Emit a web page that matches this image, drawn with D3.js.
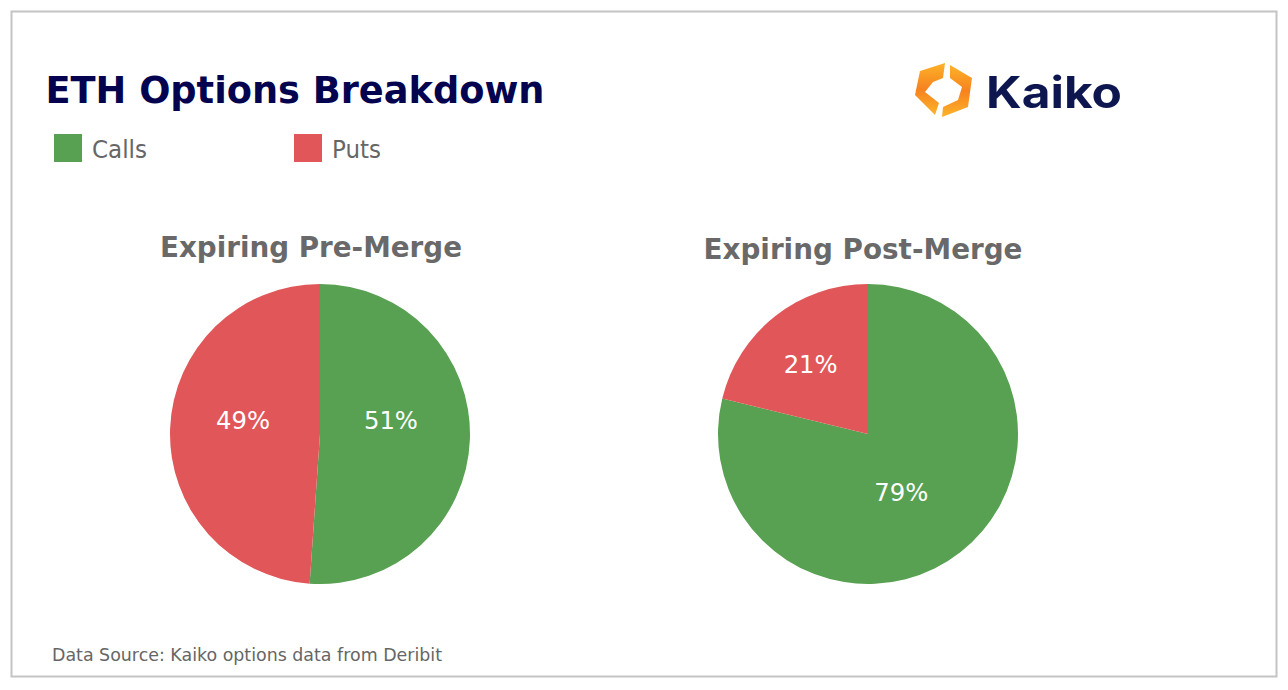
<!DOCTYPE html>
<html>
<head>
<meta charset="utf-8">
<script src="https://cdn.jsdelivr.net/npm/d3@7"></script>
<style>
  html, body { margin: 0; padding: 0; background: #fff; }
  svg { display: block; }
  text { font-family: "DejaVu Sans", sans-serif; }
</style>
</head>
<body>
<div id="chart"></div>
<script>
const seriesNames = ["Calls", "Puts"];
const seriesColors = ["#58a052", "#e15759"];
const pieTitles = ["Expiring Pre-Merge", "Expiring Post-Merge"];
const callsShare = [51.1, 78.8];
const putsShare = [48.9, 21.2];
const chartTitle = "ETH Options Breakdown";
const sourceNote = "Data Source: Kaiko options data from Deribit";

const width = 1288, height = 690;
const radius = 150;
const pieCenters = [320, 868];
const pieY = 434;
// label nudges away from the centroid, the original labels were placed by hand
const labelNudge = [
  [[-4, -16], [-2, -11]],
  [[-13, 0], [-11, -10]]
];

const svg = d3.select("#chart").append("svg")
  .attr("width", width)
  .attr("height", height);

svg.append("rect")
  .attr("x", 11.5).attr("y", 11.5)
  .attr("width", 1265).attr("height", 665)
  .attr("fill", "#fff")
  .attr("stroke", "#c4c4c4")
  .attr("stroke-width", 2);

svg.append("text")
  .attr("x", 45.5).attr("y", 103)
  .attr("font-size", 37.5)
  .attr("font-weight", 700)
  .attr("fill", "#03034f")
  .attr("textLength", 499)
  .attr("lengthAdjust", "spacingAndGlyphs")
  .text(chartTitle);

// legend
const legendX = [54, 294];
const legend = svg.selectAll("g.legend")
  .data(seriesNames)
  .join("g")
  .attr("class", "legend")
  .attr("transform", (d, i) => "translate(" + legendX[i] + ",134)");

legend.append("rect")
  .attr("width", 28).attr("height", 28)
  .attr("fill", (d, i) => seriesColors[i]);

legend.append("text")
  .attr("x", 38).attr("y", 24)
  .attr("font-size", 24)
  .attr("fill", "#666")
  .attr("textLength", (d, i) => [55, 49][i])
  .attr("lengthAdjust", "spacingAndGlyphs")
  .text(d => d);

// pies
const pie = d3.pie().sort(null).value(d => d);
const arc = d3.arc().innerRadius(0).outerRadius(radius);

pieTitles.forEach((title, p) => {
  const g = svg.append("g")
    .attr("transform", "translate(" + pieCenters[p] + "," + pieY + ")");

  const slices = pie([callsShare[p], putsShare[p]]);

  g.selectAll("path")
    .data(slices)
    .join("path")
    .attr("d", arc)
    .attr("fill", (d, i) => seriesColors[i]);

  g.selectAll("text.value")
    .data(slices)
    .join("text")
    .attr("class", "value")
    .attr("transform", (d, i) => {
      const c = arc.centroid(d);
      return "translate(" + (c[0] + labelNudge[p][i][0]) + "," + (c[1] + labelNudge[p][i][1]) + ")";
    })
    .attr("text-anchor", "middle")
    .attr("dy", "0.35em")
    .attr("font-size", 24)
    .attr("fill", "#fff")
    .attr("textLength", 54)
    .attr("lengthAdjust", "spacingAndGlyphs")
    .text(d => Math.round(d.value) + "%");

  svg.append("text")
    .attr("x", pieCenters[p] - (p ? 5 : 9))
    .attr("y", p ? 259 : 257)
    .attr("text-anchor", "middle")
    .attr("font-size", 28)
    .attr("font-weight", 700)
    .attr("fill", "#696969")
    .attr("textLength", p ? 319 : 302)
    .attr("lengthAdjust", "spacingAndGlyphs")
    .text(title);
});

svg.append("text")
  .attr("x", 52).attr("y", 661)
  .attr("font-size", 18)
  .attr("fill", "#666")
  .attr("textLength", 390)
  .attr("lengthAdjust", "spacingAndGlyphs")
  .text(sourceNote);

// logo
const defs = svg.append("defs");
defs.append("filter").attr("id", "soft")
  .append("feGaussianBlur").attr("stdDeviation", 0.5);
const grad = defs.append("linearGradient").attr("id", "logoFill")
  .attr("x1", "0").attr("y1", "0").attr("x2", "0").attr("y2", "1");
grad.append("stop").attr("offset", "0%").attr("stop-color", "#fdb32a");
grad.append("stop").attr("offset", "50%").attr("stop-color", "#f6821f");
grad.append("stop").attr("offset", "100%").attr("stop-color", "#fdb32a");

const logo = svg.append("g").attr("filter", "url(#soft)");
logo.append("path")
  .attr("fill", "url(#logoFill)")
  .attr("d", "M945 63 L920 71 L915 95 L935 115 L939 103 L925 92 L933 82 L943 78 Z");
logo.append("path")
  .attr("fill", "url(#logoFill)")
  .attr("d", "M950 65 L972 78 L968 107 L942 117 L943 107 L958 100 L962 87 L950 78 Z");
logo.append("text")
  .attr("x", 986).attr("y", 108)
  .style("font-family", "Inter, sans-serif")
  .attr("font-size", 44)
  .attr("font-weight", 700)
  .attr("fill", "#0a1650")
  .attr("textLength", 136)
  .attr("lengthAdjust", "spacingAndGlyphs")
  .text("Kaiko");
</script>
</body>
</html>
